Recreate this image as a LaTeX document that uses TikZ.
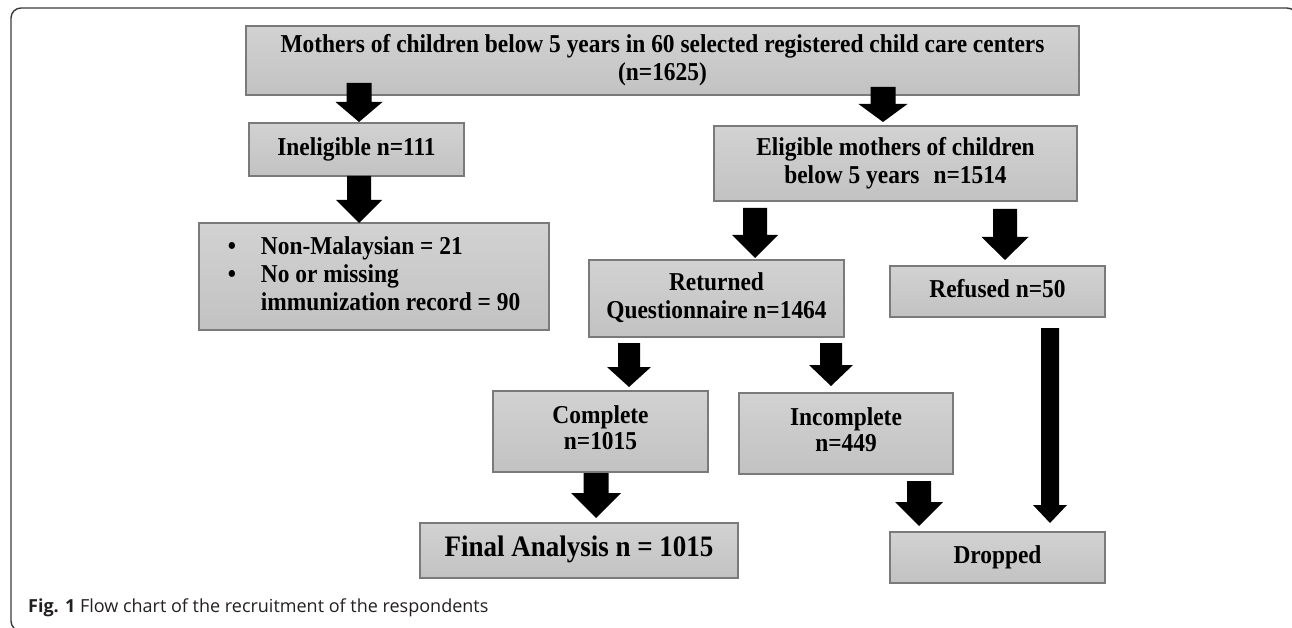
\documentclass[tikz,border=0pt]{standalone}
\usepackage{graphicx}
\usepackage{fontspec}
\setmainfont{Liberation Serif}
\newfontfamily\capfont{Open Sans}
\usetikzlibrary{calc}
\definecolor{boxtop}{HTML}{D2D2D2}
\definecolor{boxbot}{HTML}{C2C2C2}
\definecolor{boxline}{HTML}{7A7A7A}
\definecolor{framecol}{HTML}{3A3A3A}
\definecolor{captext}{HTML}{231F20}
% block arrow: start coord, tip coord, head length, half shaft, half head
\newcommand{\blockarr}[5]{%
  \fill let \p1=(#1), \p2=(#2) in
    (\x1-#4,\y1) -- (\x1+#4,\y1) -- (\x1+#4,\y2+#3) -- (\x1+#5,\y2+#3)
    -- (\x2,\y2) -- (\x1-#5,\y2+#3) -- (\x1-#4,\y2+#3) -- cycle;}
% vertically stretched centred text
\newcommand{\tx}[1]{\scalebox{1}[1.1]{\begin{tabular}{@{}c@{}}#1\end{tabular}}}
\begin{document}
\begin{tikzpicture}[x=1pt,y=-1pt,
  box/.style={draw=boxline, line width=1.3pt, top color=boxtop, bottom color=boxbot,
    inner sep=0pt, align=center, text=black,
    font=\bfseries\fontsize{23.4}{25.5}\selectfont},
  box2/.style={box, font=\bfseries\fontsize{23.4}{23.6}\selectfont},
]
\useasboundingbox (0,0) rectangle (1292,628);
\begin{scope}
  \clip (0,0) rectangle (1292,628);
  \draw[framecol, line width=1.4pt, rounded corners=10pt] (11,8) rectangle (1297,631);
\end{scope}

% boxes
\node[box, minimum width=833pt, minimum height=69pt] (top) at (662.5,60.5)
  {\tx{Mothers of children below 5 years in 60 selected registered child care centers\\(n=1625)}};
\node[box, minimum width=215pt, minimum height=53pt] (inel) at (356.5,149.5)
  {\tx{Ineligible n=111}};
\node[box, minimum width=350pt, minimum height=107pt] (excl) at (374,276.5)
  {\scalebox{1}[1.1]{\begin{tabular}{@{}l@{\hspace{25pt}}l@{}}\textbullet & Non-Malaysian = 21\\ \textbullet & No or missing\\ & immunization record = 90\end{tabular}}};
\node[box, minimum width=363pt, minimum height=75pt] (elig) at (895.5,163.5)
  {\tx{Eligible mothers of children\\below 5 years\hspace{14pt}n=1514}};
\node[box, minimum width=255pt, minimum height=77pt] (ret) at (716.5,298.5)
  {\tx{Returned\\Questionnaire n=1464}};
\node[box, minimum width=215pt, minimum height=51pt] (ref) at (997.5,291.5)
  {\tx{Refused n=50}};
\node[box2, minimum width=215pt, minimum height=81pt] (comp) at (600.5,431.5)
  {\tx{Complete\\n=1015}};
\node[box2, minimum width=214pt, minimum height=81pt] (incomp) at (846,433.5)
  {\tx{Incomplete\\n=449}};
\node[box, minimum width=318pt, minimum height=55pt, font=\bfseries\fontsize{27}{29}\selectfont] (final) at (579,550.5)
  {\tx{Final Analysis n = 1015}};
\node[box, minimum width=215pt, minimum height=51pt] (drop) at (997.5,557.5)
  {\tx{Dropped}};

% arrow end points
\coordinate (a1s) at (359,83);   \coordinate (a1e) at (359,122);
\coordinate (a2s) at (359,176);  \coordinate (a2e) at (359,223);
\coordinate (a3s) at (883,87);   \coordinate (a3e) at (883,122);
\coordinate (a4s) at (755,208);  \coordinate (a4e) at (755,258);
\coordinate (a5s) at (1005,209); \coordinate (a5e) at (1005,260);
\coordinate (a6s) at (629,343);  \coordinate (a6e) at (629,387);
\coordinate (a7s) at (831,343);  \coordinate (a7e) at (831,386);
\coordinate (a8s) at (596,473);  \coordinate (a8e) at (596,518);
\coordinate (a9s) at (919,481);  \coordinate (a9e) at (919,526);
\coordinate (a10s) at (1050,328); \coordinate (a10e) at (1050,523);

\blockarr{a1s}{a1e}{20pt}{12.5pt}{23.5pt}
\blockarr{a2s}{a2e}{23pt}{12pt}{23pt}
\blockarr{a3s}{a3e}{18pt}{12.5pt}{24.5pt}
\blockarr{a4s}{a4e}{23pt}{12pt}{23pt}
\blockarr{a5s}{a5e}{23pt}{12pt}{23.5pt}
\blockarr{a6s}{a6e}{20pt}{11pt}{22pt}
\blockarr{a7s}{a7e}{21pt}{11pt}{22pt}
\blockarr{a8s}{a8e}{25pt}{12.5pt}{25pt}
\blockarr{a9s}{a9e}{24pt}{12pt}{24pt}
\blockarr{a10s}{a10e}{18pt}{9pt}{17pt}

% caption
\node[anchor=base west, inner sep=0pt, text=captext,
  font=\capfont\fontsize{18}{22}\selectfont] (cap) at (28,612)
  {\textbf{Fig. 1} Flow chart of the recruitment of the respondents};
\end{tikzpicture}
\end{document}
